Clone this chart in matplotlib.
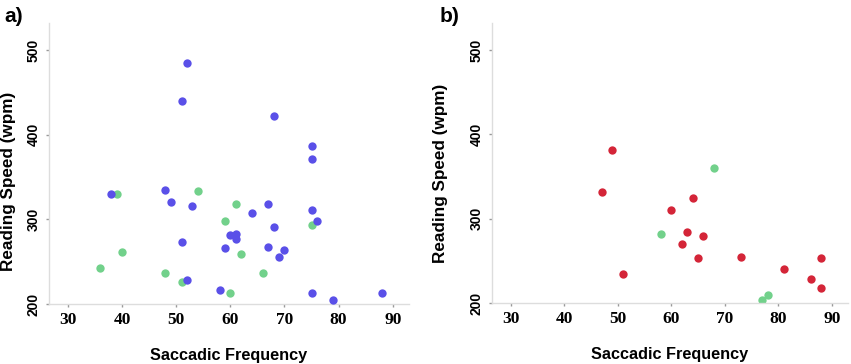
import matplotlib.pyplot as plt

# panel a) data
a_blue_x = [52, 51, 68, 75, 75, 38, 48, 49, 53, 67, 64, 75, 76, 68, 60, 61, 61, 51,
            59, 67, 70, 69, 52, 58, 75, 79, 88]
a_blue_y = [485, 440, 422, 387, 371, 330, 335, 321, 316, 318, 308, 311, 298, 291, 282, 283,
            277, 273, 266, 267, 264, 256, 228, 217, 213, 205, 213]
a_green_x = [39, 54, 61, 59, 75, 40, 62, 36, 48, 66, 51, 60]
a_green_y = [330, 333, 318, 298, 293, 261, 259, 242, 237, 237, 226, 213]

# panel b) data
b_red_x = [49, 47, 60, 64, 63, 62, 66, 65, 51, 73, 81, 88, 86, 88]
b_red_y = [381, 332, 310, 325, 284, 270, 280, 253, 234, 255, 240, 253, 228, 218]
b_green_x = [68, 58, 77, 78]
b_green_y = [360, 282, 204, 210]

xticks = [30, 40, 50, 60, 70, 80, 90]
yticks = [200, 300, 400, 500]

blue = '#5a50e8'
green = '#72d18b'
red = '#d42538'

fig = plt.figure(figsize=(8.51, 3.64), dpi=100)
W, H = 851, 364


def make_axes(left, right, top, bottom):
    return fig.add_axes([left / W, 1 - bottom / H, (right - left) / W, (bottom - top) / H])


ax_a = make_axes(49, 409, 23, 304)
ax_b = make_axes(492, 848, 23, 303)

ax_a.scatter(a_green_x, a_green_y, s=36, color=green, linewidths=0, zorder=2)
ax_a.scatter(a_blue_x, a_blue_y, s=36, color=blue, linewidths=0, zorder=3)
ax_b.scatter(b_green_x, b_green_y, s=36, color=green, linewidths=0, zorder=2)
ax_b.scatter(b_red_x, b_red_y, s=36, color=red, linewidths=0, zorder=3)

for ax, ylab_y, ylab_x in ((ax_a, 0.435, -0.092), (ax_b, 0.464, -0.124)):
    ax.set_xlim(26.5, 93)
    ax.set_ylim(200, 532)
    ax.set_xticks(xticks)
    ax.set_yticks(yticks)
    ax.set_xticklabels([str(t) for t in xticks], family='Liberation Serif',
                       fontweight='bold', fontsize=12.5)
    ax.set_yticklabels([str(t) for t in yticks], family='Liberation Sans',
                       fontweight='bold', fontsize=10, rotation=90, va='center')
    for side in ('top', 'right'):
        ax.spines[side].set_visible(False)
    for side in ('left', 'bottom'):
        ax.spines[side].set_color('#dddddd')
        ax.spines[side].set_linewidth(1.0)
    ax.tick_params(length=2, width=1, color='#999999', pad=4)
    ax.set_xlabel('Saccadic Frequency', family='Liberation Sans', fontweight='bold',
                  fontsize=11.7, labelpad=14)
    ax.set_ylabel('Reading Speed (wpm)', family='Liberation Sans', fontweight='bold',
                  fontsize=12.3)
    ax.yaxis.set_label_coords(ylab_x, ylab_y)

fig.text(4 / W, 1 - 16 / H, 'a)', family='Liberation Sans', fontweight='bold',
         fontsize=15, va='center', ha='left')
fig.text(440 / W, 1 - 16 / H, 'b)', family='Liberation Sans', fontweight='bold',
         fontsize=15, va='center', ha='left')

fig.savefig('out.png', dpi=100)
